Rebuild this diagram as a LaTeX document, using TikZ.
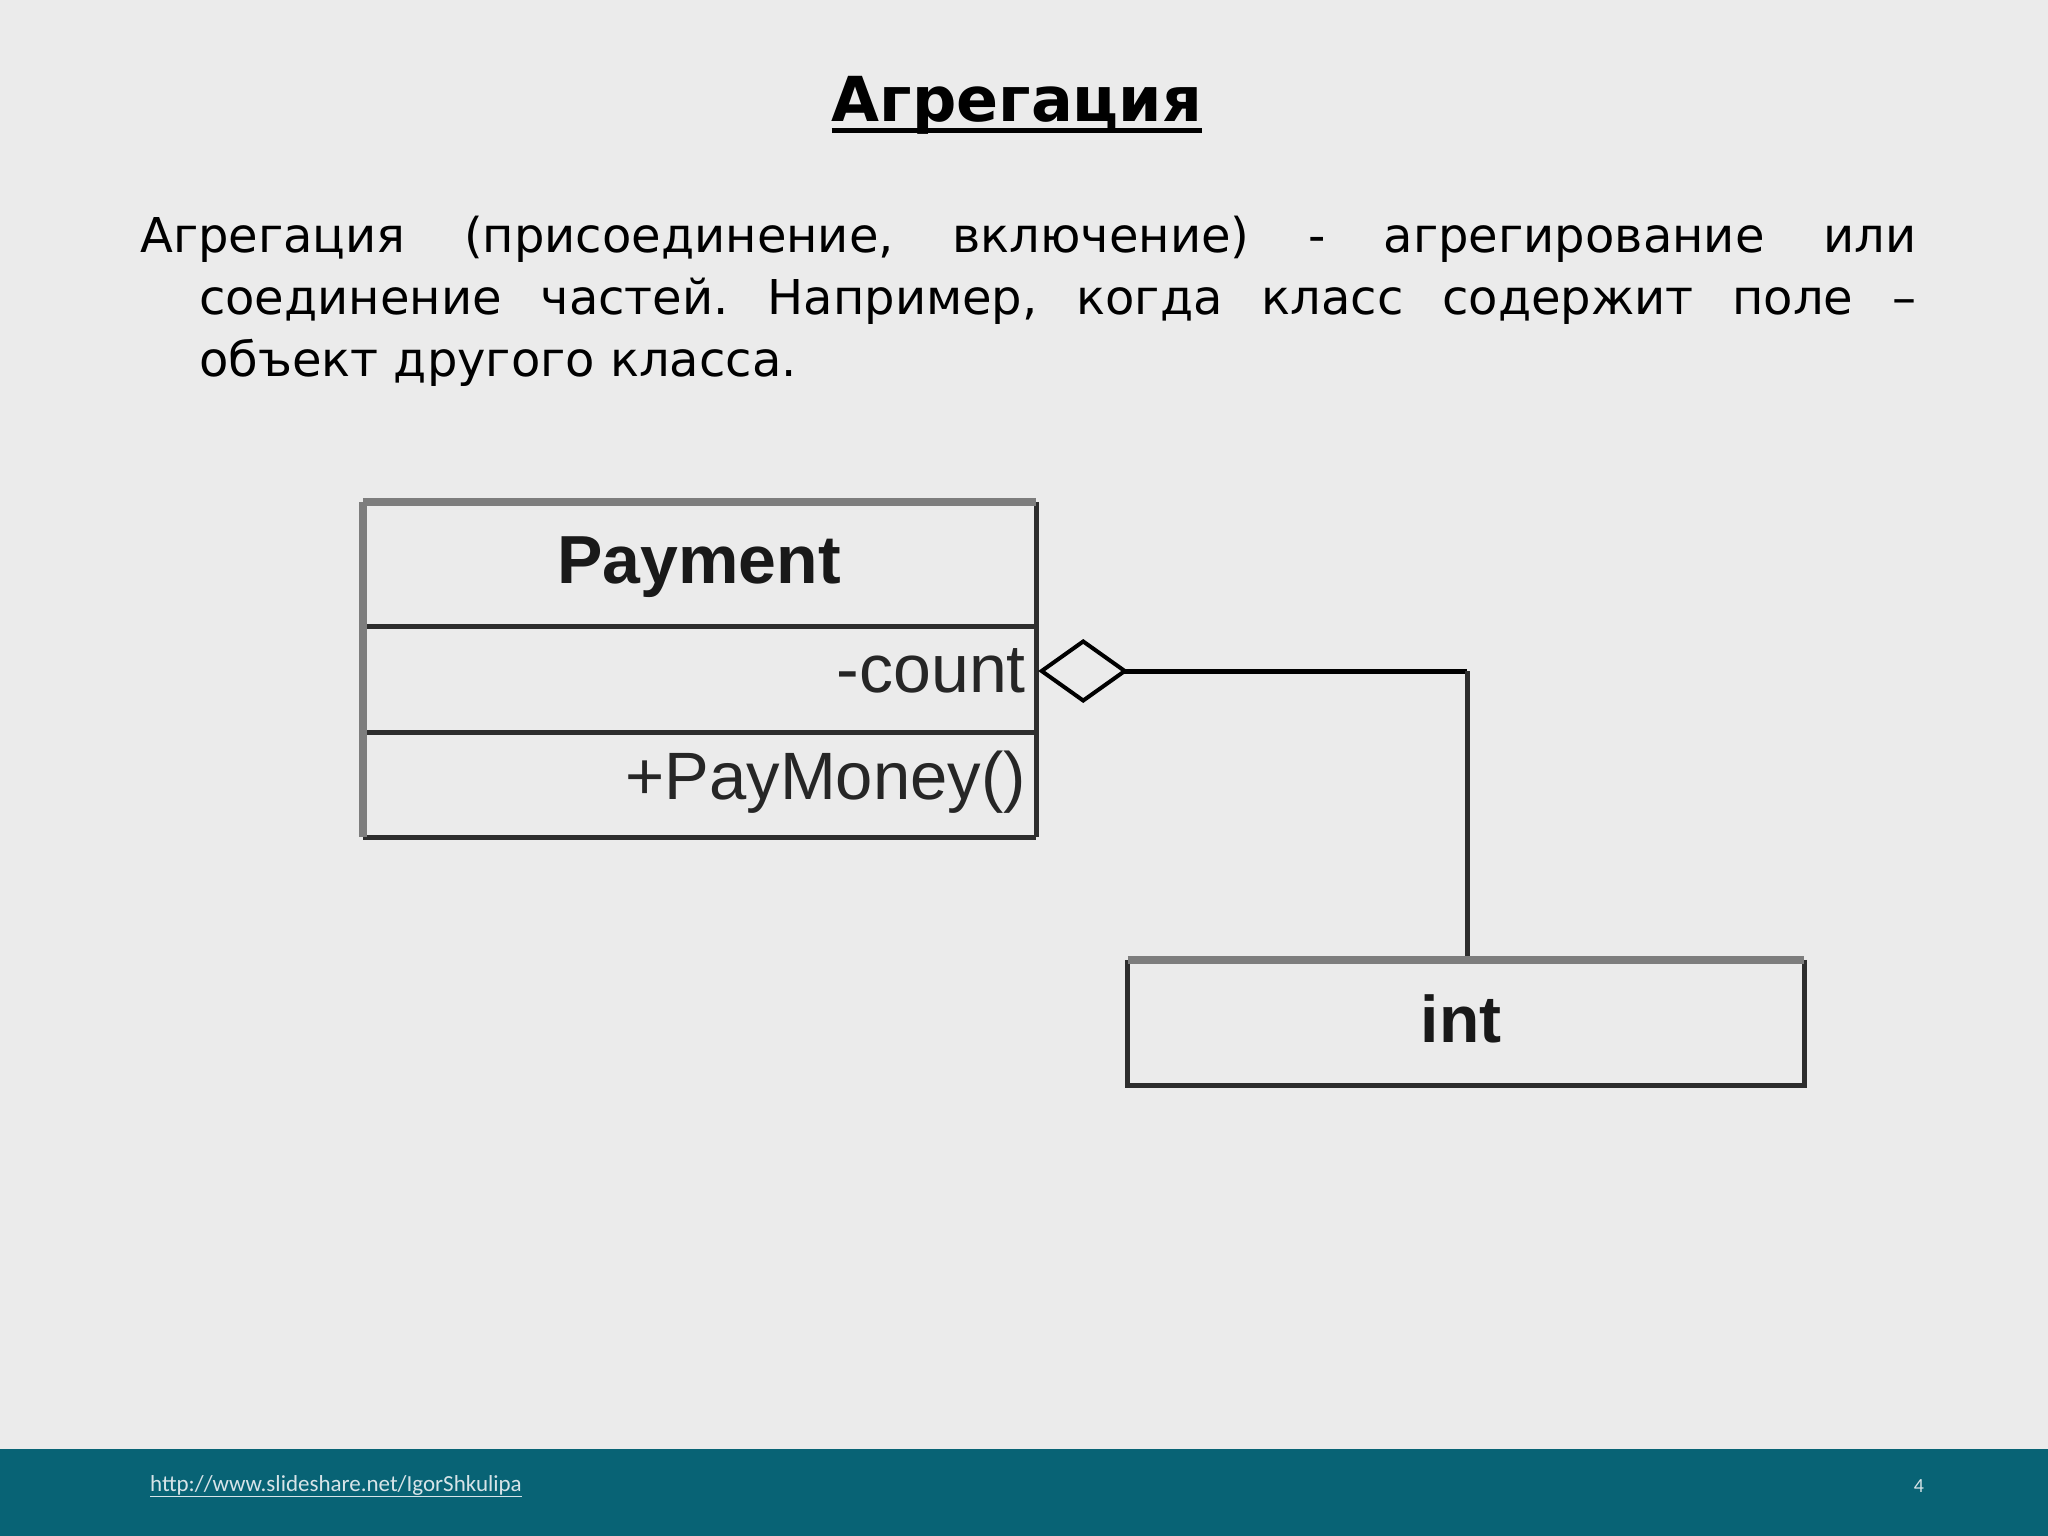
\documentclass[tikz,border=0pt]{standalone}
\usepackage{fontspec}
\setmainfont{DejaVu Sans}
\newfontfamily\umlfont{Liberation Sans}
\newfontfamily\footfont{Carlito}
\usetikzlibrary{arrows.meta,calc}
\definecolor{slidebg}{RGB}{235,235,235}
\definecolor{barteal}{RGB}{8,99,117}
\definecolor{edgegrey}{RGB}{125,125,125}
\definecolor{edgedark}{RGB}{45,45,45}
\definecolor{foottext}{RGB}{215,228,232}
\tikzset{
  classpart/.style={rectangle, inner sep=0pt, minimum width=673pt},
  umlbold/.style={font=\umlfont\bfseries\fontsize{68}{80}\selectfont, text=black!90, inner sep=0pt, anchor=base},
  umltext/.style={font=\umlfont\fontsize{68}{80}\selectfont, text=black!85, inner sep=0pt, anchor=base east},
  greyedge/.style={draw=edgegrey, line width=8pt},
  darkedge/.style={draw=edgedark, line width=5pt},
  aggline/.style={draw=black, line width=5pt},
}
\begin{document}
\begin{tikzpicture}[x=1pt,y=-1pt]
\useasboundingbox (0,0) rectangle (2048,1536);
\fill[slidebg] (0,0) rectangle (2048,1536);
\fill[barteal] (0,1449) rectangle (2048,1536);

% title
\node[font=\bfseries\fontsize{62}{70}\selectfont, anchor=base, inner sep=0pt] (title) at (1017,122) {Агрегация};
\draw[line width=5pt] ($(title.base west)+(0,9)$) -- ($(title.base east)+(0,9)$);

% body text
\node[anchor=north west, inner sep=0pt, text width=1776pt, align=justify,
      font=\fontsize{48}{62}\selectfont] (body) at (140,208.6)
{\frenchspacing\hyphenpenalty=10000\leftskip=59pt\hspace*{-59pt}\strut Агрегация (присоединение, включение) - агрегирование или\linebreak
соединение частей. Например, когда класс содержит поле –\linebreak
объект другого класса.\par};

% class Payment
\node[classpart, minimum height=124pt] (pname) at (699.5,564) {};
\node[classpart, minimum height=106pt] (pattr) at (699.5,679) {};
\node[classpart, minimum height=105pt] (pops) at (699.5,784.5) {};
\node[umlbold] (pnamet) at (699,583) {Payment};
\node[umltext] (pattrt) at (1026,692) {-count};
\node[umltext, font=\umlfont\fontsize{67}{76}\selectfont] (popst) at (1026,799) {+PayMoney()};

\draw[darkedge] (pname.south west) -- (pname.south east);
\draw[darkedge] (pattr.south west) -- (pattr.south east);
\draw[darkedge] (pops.south west) -- (pops.south east);
\draw[darkedge] (pname.north east) -- (pops.south east);
\draw[greyedge] (pname.north west) -- (pname.north east);
\draw[greyedge] (pname.north west) -- (pops.south west);

% class int
\node[rectangle, inner sep=0pt, minimum width=676pt, minimum height=125pt] (int) at (1466,1022.5) {};
\node[umlbold, font=\umlfont\bfseries\fontsize{66}{76}\selectfont] (intt) at (1461,1042) {int};

% aggregation connector
\coordinate (agg) at ($(pattr.east)+(2,-8)$);
\coordinate (bend) at (1467,671);
\draw[aggline, {Diamond[open, length=90pt, width=64pt, line width=4pt]}-] (agg) -- (bend);
\draw[darkedge] (bend) -- (int.north -| bend);

\draw[darkedge] (int.north east) -- (int.south east) -- (int.south west) -- (int.north west);
\draw[greyedge] (int.north west) -- (int.north east);

% footer
\node[anchor=west, inner sep=0pt, text=foottext, font=\footfont\fontsize{23}{27}\selectfont] (url) at (150,1486) {\underline{http://www.slideshare.net/IgorShkulipa}};
\node[inner sep=0pt, text=foottext, font=\footfont\fontsize{20}{24}\selectfont] (pnum) at (1919,1486) {4};
\end{tikzpicture}
\end{document}
